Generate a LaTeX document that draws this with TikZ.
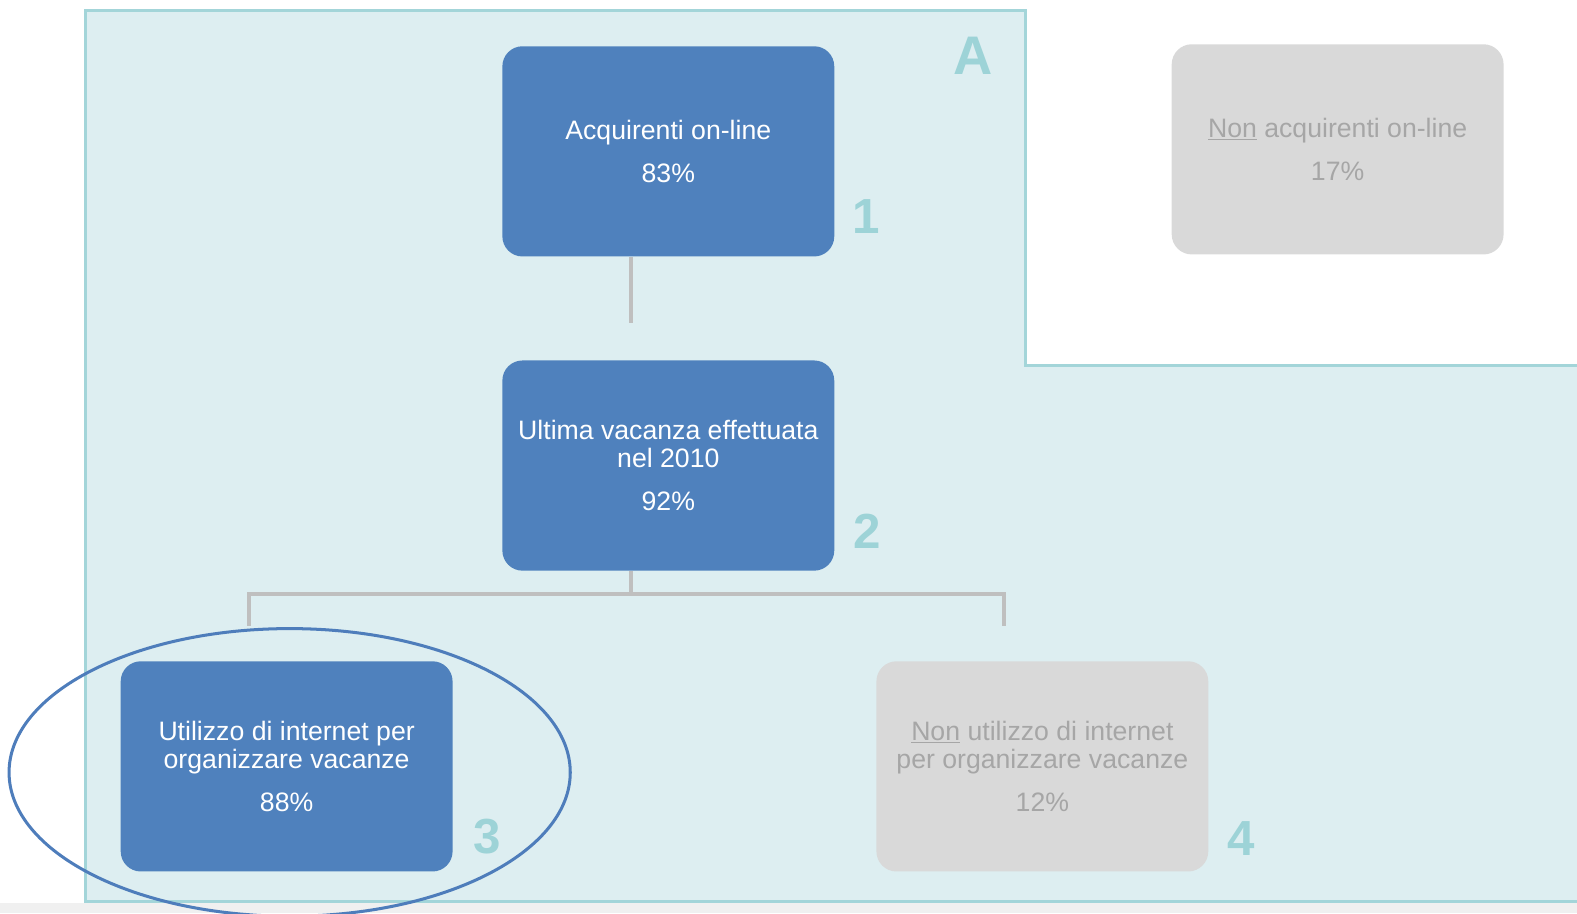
\documentclass[tikz,border=0pt]{standalone}
\usepackage{fontspec}
\setmainfont{Liberation Sans}
\usetikzlibrary{positioning}
\definecolor{boxblue}{HTML}{4F81BD}
\definecolor{zonefill}{HTML}{DDEEF1}
\definecolor{zoneline}{HTML}{A3D5D9}
\definecolor{tagteal}{HTML}{9DD3D7}
\definecolor{boxgrey}{HTML}{D9D9D9}
\definecolor{textgrey}{HTML}{A6A6A6}
\definecolor{linkgrey}{HTML}{BFBFBF}
\definecolor{ringblue}{HTML}{4E7DBB}
\definecolor{stripgrey}{HTML}{F0F0F0}

\begin{document}
\begin{tikzpicture}[x=1pt, y=-1pt, node distance=103pt and 421pt,
    bluebox/.style={rectangle, rounded corners=20pt, fill=boxblue, text=white, minimum width=330pt, minimum height=209pt, inner sep=0pt, align=center, font=\fontsize{26.5}{28}\selectfont},
    greybox/.style={bluebox, fill=boxgrey, text=textgrey},
    link/.style={draw=linkgrey, line width=4pt},
    tag/.style={text=tagteal, inner sep=0pt, font=\fontsize{49}{49}\bfseries\selectfont}]
    \useasboundingbox (0,0) rectangle (1568,908);
    \fill[stripgrey] (0,898) rectangle (1568,908);
    \draw[fill=zonefill, draw=zoneline, line width=3pt] (85,10) -- (1020,10) -- (1020,363) -- (1574,363) -- (1574,896.5) -- (85,896.5) -- cycle;

    \node[bluebox] (buyers) at (664.5,150.5) {Acquirenti on-line\\[15pt]83\%};
    \node[greybox] (nonbuyers) at (1330,148.5) {\underline{Non} acquirenti on-line\\[15pt]17\%};
    \node[bluebox] (holiday) [below = of buyers] {Ultima vacanza effettuata\\nel 2010\\[15pt]92\%};
    \node[bluebox] (web) at (285,762) {Utilizzo di internet per\\organizzare vacanze\\[15pt]88\%};
    \node[greybox] (noweb) [right = of web] {\underline{Non} utilizzo di internet\\per organizzare vacanze\\[15pt]12\%};

    \coordinate (stub) at (627,321);
    \coordinate (split) at (627,591);
    \coordinate (webtop) at (248,622);
    \coordinate (nowebtop) at (998,622);
    \draw[link] (buyers.south -| stub) -- (stub);
    \draw[link] (holiday.south -| split) -- (split);
    \draw[link] (webtop) |- (split) -| (nowebtop);

    \draw[ringblue, line width=3pt] (288,768) ellipse [x radius=279pt, y radius=143pt];

    \node[tag, font=\fontsize{54}{54}\bfseries\selectfont] (tagA) at (968,55) {A};
    \node[tag] (tag1) at (861,215) {1};
    \node[tag] (tag2) at (862,528) {2};
    \node[tag] (tag3) at (484,832) {3};
    \node[tag] (tag4) at (1234,834) {4};
\end{tikzpicture}
\end{document}
